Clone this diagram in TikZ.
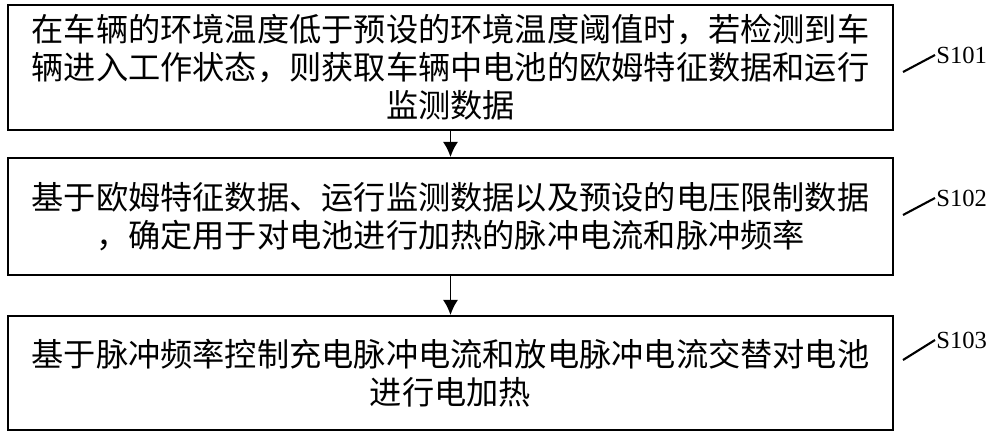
\documentclass[tikz,border=0pt]{standalone}
\usepackage{fontspec}
\usetikzlibrary{arrows.meta}
\newfontfamily\cjk{Noto Sans CJK SC}
\setmainfont{Liberation Serif}
\begin{document}
\begin{tikzpicture}[x=0.03cm,y=-0.03cm,
  stepbox/.style={draw,line width=1.6pt,minimum width=885*0.03cm,inner sep=0pt,align=center,font=\cjk\fontsize{27.5pt}{32.5pt}\selectfont},
  lbl/.style={font=\fontsize{21pt}{23pt}\selectfont,anchor=west,inner sep=1pt},
  arr/.style={line width=1.6pt,-{Latex[length=13pt,width=13pt]}},
  lead/.style={line width=1.8pt}]
\useasboundingbox (0,0) rectangle (1000,444);
\node[stepbox,minimum height=125*0.03cm] (b1) at (450.5,67.5) {在车辆的环境温度低于预设的环境温度阈值时，若检测到车\\辆进入工作状态，则获取车辆中电池的欧姆特征数据和运行\\监测数据};
\node[stepbox,minimum height=117*0.03cm] (b2) at (450.5,216.5) {基于欧姆特征数据、运行监测数据以及预设的电压限制数据\\，确定用于对电池进行加热的脉冲电流和脉冲频率};
\node[stepbox,minimum height=114*0.03cm] (b3) at (450.5,373) {基于脉冲频率控制充电脉冲电流和放电脉冲电流交替对电池\\进行电加热};
\draw[arr] (b1) -- (b2);
\draw[arr] (b2) -- (b3);
\node[lbl] (s1) at (935,55) {S101};
\node[lbl] (s2) at (935,198) {S102};
\node[lbl] (s3) at (935,340) {S103};
\coordinate (c1) at (903,72); \coordinate (c2) at (903,215); \coordinate (c3) at (903,360);
\draw[lead] (c1) -- (s1.west);
\draw[lead] (c2) -- (s2.west);
\draw[lead] (c3) -- (s3.west);
\end{tikzpicture}
\end{document}
